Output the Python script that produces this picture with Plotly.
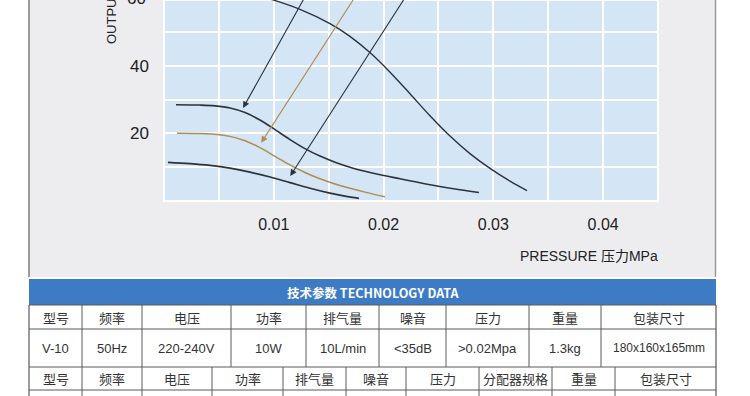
import plotly.graph_objects as go

# ---------------- data ----------------
curve_a_x = [0.00811, 0.00993, 0.01239, 0.01512, 0.01694, 0.01876, 0.02059, 0.02241, 0.02423,
             0.02605, 0.02787, 0.0297, 0.03152, 0.03307]
curve_a_y = [61.09, 59.47, 56.67, 52.46, 48.7, 43.9, 38.1, 31.72, 25.21,
             19.2, 14.02, 9.64, 5.86, 3.05]

curve_b_x = [0.00109, 0.00328, 0.00465, 0.00601, 0.00738, 0.00874, 0.01011, 0.01148, 0.01284,
             0.01421, 0.01558, 0.01694, 0.01831, 0.01968, 0.0215, 0.02423, 0.02696, 0.02869]
curve_b_y = [28.49, 28.38, 28.14, 27.51, 26.18, 23.96, 21.12, 18.17, 15.5,
             13.28, 11.48, 10.0, 8.79, 7.75, 6.57, 4.82, 3.31, 2.51]

curve_c_x = [0.00118, 0.00328, 0.00465, 0.00601, 0.00738, 0.00874, 0.01011, 0.01148, 0.01284,
             0.01421, 0.01558, 0.01694, 0.01831, 0.02013]
curve_c_y = [20.03, 19.96, 19.74, 19.12, 17.83, 15.77, 13.22, 10.68, 8.43,
             6.57, 5.03, 3.76, 2.63, 1.27]

curve_d_x = [0.00036, 0.00237, 0.00419, 0.00601, 0.00783, 0.00966, 0.01148, 0.0133, 0.01512,
             0.01649, 0.01776]
curve_d_y = [11.45, 11.06, 10.53, 9.70, 8.54, 7.09, 5.44, 3.78, 2.33, 1.44, 0.77]

# arrows: head (x, y) and tail (x, y)
arrow_heads = [(0.0072, 27.5), (0.00885, 17.2), (0.0115, 7.4)]
arrow_tails = [(0.0137, 65.4), (0.0184, 65.4), (0.0230, 65.4)]

x_tick_vals = [0.01, 0.02, 0.03, 0.04]
x_tick_text = ["0.01", "0.02", "0.03", "0.04"]
y_tick_vals = [20, 40, 60]
y_tick_text = ["20", "40", "60"]

x_title = "PRESSURE 压力MPa"
y_title = "OUTPUT"

table_title = "技术参数 TECHNOLOGY DATA"
header1 = ["型号", "频率", "电压", "功率", "排气量", "噪音", "压力", "重量", "包装尺寸"]
row1 = ["V-10", "50Hz", "220-240V", "10W", "10L/min", "<35dB", ">0.02Mpa", "1.3kg", "180x160x165mm"]
header2 = ["型号", "频率", "电压", "功率", "排气量", "噪音", "压力", "分配器规格", "重量", "包装尺寸"]

# ---------------- layout helpers ----------------
W, H = 750, 396
def PX(px):
    return px / W
def PY(py):
    return 1 - py / H

DARK = "#2d333b"
GOLD = "#b08c52"
FONT_LAT = "Liberation Sans, Arial, Noto Sans CJK SC"
FONT_CJK = "Noto Sans CJK SC, Liberation Sans"

fig = go.Figure()
for xs, ys, col, w in [(curve_a_x, curve_a_y, DARK, 1.4),
                       (curve_b_x, curve_b_y, DARK, 1.6),
                       (curve_c_x, curve_c_y, GOLD, 1.5),
                       (curve_d_x, curve_d_y, DARK, 1.7)]:
    fig.add_trace(go.Scatter(x=xs, y=ys, mode="lines",
                             line=dict(color=col, width=w, shape="spline", smoothing=1.0),
                             hoverinfo="skip", showlegend=False))

arrow_colors = [DARK, GOLD, DARK]
for (hx, hy), (tx, ty), c in zip(arrow_heads, arrow_tails, arrow_colors):
    fig.add_annotation(x=hx, y=hy, ax=tx, ay=ty, xref="x", yref="y", axref="x", ayref="y",
                       text="", showarrow=True, arrowhead=2, arrowsize=1.2, arrowwidth=1.1,
                       arrowcolor=c)

shapes = []
# grey panel
shapes.append(dict(type="rect", xref="paper", yref="paper", x0=PX(29), x1=PX(716), y0=PY(277), y1=PY(-5),
                   fillcolor="#ededf0", line=dict(width=0), layer="below"))
shapes.append(dict(type="line", xref="paper", yref="paper", x0=PX(29), x1=PX(29), y0=PY(277), y1=PY(-5),
                   line=dict(color="#9a9a9a", width=2), layer="below"))
shapes.append(dict(type="line", xref="paper", yref="paper", x0=PX(715.5), x1=PX(715.5), y0=PY(277), y1=PY(-5),
                   line=dict(color="#9a9a9a", width=1.5), layer="below"))
# plot background
shapes.append(dict(type="rect", xref="x domain", yref="y domain", x0=0, x1=1, y0=0, y1=1,
                   fillcolor="#d4e5f5", line=dict(color="white", width=2), layer="below"))
# blue title bar
shapes.append(dict(type="rect", xref="paper", yref="paper", x0=PX(29), x1=PX(716), y0=PY(305), y1=PY(279),
                   fillcolor="#3e7bc5", line=dict(width=0)))
# table lines
row_lines = [305, 329, 367, 390]
for ry in row_lines:
    shapes.append(dict(type="line", xref="paper", yref="paper", x0=PX(29), x1=PX(716), y0=PY(ry), y1=PY(ry),
                       line=dict(color="#5a5a5a", width=1)))
col_edges_1 = [29, 82, 142, 231, 306, 379, 446, 529, 601, 716]
col_edges_2 = [29, 82, 142, 212, 283, 346, 406, 479, 552, 615, 716]
for cx in col_edges_1:
    shapes.append(dict(type="line", xref="paper", yref="paper", x0=PX(cx), x1=PX(cx), y0=PY(305), y1=PY(367),
                       line=dict(color="#5a5a5a", width=1.2 if cx in (29, 716) else 1)))
for cx in col_edges_2:
    shapes.append(dict(type="line", xref="paper", yref="paper", x0=PX(cx), x1=PX(cx), y0=PY(367), y1=PY(400),
                       line=dict(color="#5a5a5a", width=1.2 if cx in (29, 716) else 1)))

annots = []
annots.append(dict(xref="paper", yref="paper", x=PX(372.5), y=PY(292), text="<b>" + table_title + "</b>",
                   showarrow=False, font=dict(family=FONT_CJK, size=12.5, color="white"),
                   xanchor="center", yanchor="middle"))
for i, t in enumerate(header1):
    cx = (col_edges_1[i] + col_edges_1[i + 1]) / 2
    annots.append(dict(xref="paper", yref="paper", x=PX(cx), y=PY(317), text=t, showarrow=False,
                       font=dict(family=FONT_CJK, size=13, color="#333"), xanchor="center", yanchor="middle"))
for i, t in enumerate(row1):
    cx = (col_edges_1[i] + col_edges_1[i + 1]) / 2
    annots.append(dict(xref="paper", yref="paper", x=PX(cx), y=PY(348), text=t, showarrow=False,
                       font=dict(family=FONT_LAT, size=12 if len(t) > 10 else 13, color="#333"),
                       xanchor="center", yanchor="middle"))
for i, t in enumerate(header2):
    cx = (col_edges_2[i] + col_edges_2[i + 1]) / 2
    annots.append(dict(xref="paper", yref="paper", x=PX(cx), y=PY(378.5), text=t, showarrow=False,
                       font=dict(family=FONT_CJK, size=13, color="#333"), xanchor="center", yanchor="middle"))
# axis titles and the partially cropped 60 label
annots.append(dict(xref="paper", yref="paper", x=PX(660), y=PY(255.5), text=x_title, showarrow=False,
                   font=dict(family=FONT_LAT, size=14, color="#222"), xanchor="right", yanchor="middle"))
annots.append(dict(xref="paper", yref="paper", x=PX(112), y=PY(46), text=y_title, showarrow=False,
                   textangle=-90, font=dict(family=FONT_LAT, size=13, color="#222"),
                   xanchor="center", yanchor="bottom"))
annots.append(dict(xref="paper", yref="paper", x=PX(148), y=PY(-2), text=y_tick_text[-1], showarrow=False,
                   font=dict(family=FONT_LAT, size=17, color="#222"), xanchor="right", yanchor="middle"))

fig.update_layout(
    width=W, height=H,
    margin=dict(l=0, r=0, t=0, b=0),
    paper_bgcolor="white",
    plot_bgcolor="rgba(0,0,0,0)",
    shapes=shapes,
    showlegend=False,
    xaxis=dict(domain=[PX(164), PX(658)], range=[0, 0.045], tickvals=x_tick_vals, ticktext=x_tick_text,
               showgrid=True, gridcolor="white", gridwidth=2, zeroline=False, showline=False,
               ticks="", ticklabelstandoff=12,
               tickfont=dict(family=FONT_LAT, size=16, color="#222"),
               minor=dict(tick0=0, dtick=0.005, showgrid=True, gridcolor="white", gridwidth=2)),
    yaxis=dict(domain=[PY(201), 1], range=[0, 59.45], tickvals=y_tick_vals, ticktext=y_tick_text,
               showgrid=True, gridcolor="white", gridwidth=2, zeroline=False, showline=False,
               ticks="", ticklabelstandoff=14,
               tickfont=dict(family=FONT_LAT, size=17, color="#222"),
               minor=dict(tick0=0, dtick=10, showgrid=True, gridcolor="white", gridwidth=2)),
)
for a in annots:
    fig.add_annotation(**a)

fig.write_html("out.html", config={"displayModeBar": False},
               post_script="document.body.style.margin='0';document.body.style.overflow='hidden';")
